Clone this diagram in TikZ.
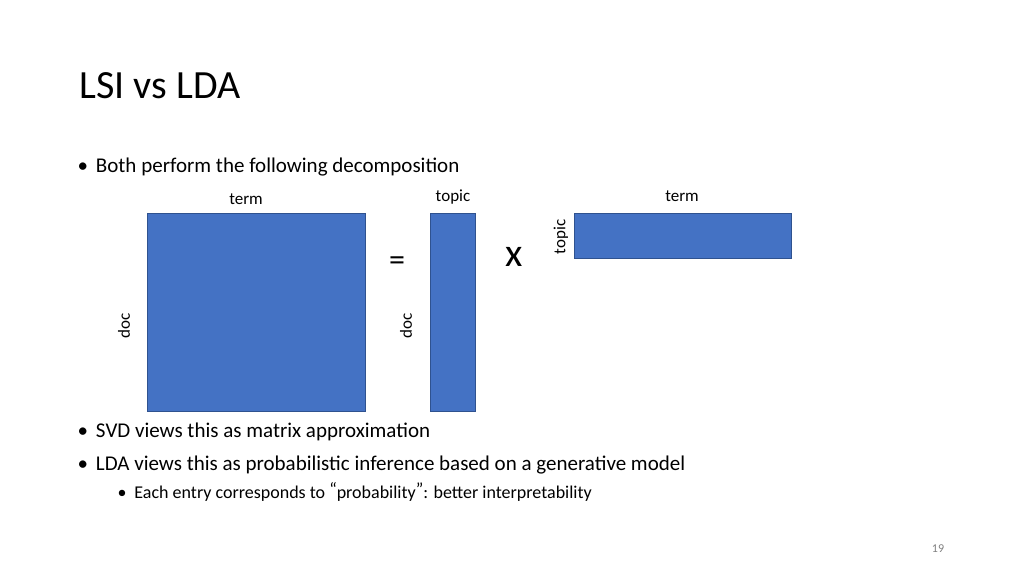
\documentclass[tikz,border=0pt]{standalone}
\usepackage{fontspec}
\setmainfont{Carlito}
\definecolor{matblue}{HTML}{4472C4}
\definecolor{matedge}{HTML}{2F528F}
\tikzset{
  mat/.style={draw=matedge, fill=matblue, line width=0.8pt},
  lbl/.style={font=\fontsize{17}{20}\selectfont},
  bullet/.style={anchor=west, font=\fontsize{21}{25}\selectfont},
  subbullet/.style={anchor=west, font=\fontsize{18}{22}\selectfont}
}
\begin{document}
\begin{tikzpicture}[x=1pt,y=-1pt]
  \useasboundingbox (0,0) rectangle (1024,576);
  \node[anchor=west, font=\fontsize{40}{46}\selectfont] (title) at (76,86) {LSI vs LDA};

  \node[bullet] (b1) at (74,167) {\textbullet\hspace{8pt}Both perform the following decomposition};

  % matrices
  \draw[mat] (147,213) rectangle (365,411);
  \coordinate (big) at (256,312);
  \draw[mat] (430,213) rectangle (475,411);
  \draw[mat] (574,213) rectangle (791,258);

  \node[lbl] (termA) at (246,199) {term};
  \node[lbl] (topicA) at (453,197) {topic};
  \node[lbl] (termB) at (682,196) {term};
  \node[lbl, rotate=90] (topicB) at (561,237) {topic};
  \node[lbl, rotate=90] (docA) at (124,326) {doc};
  \node[lbl, rotate=90] (docB) at (406,326) {doc};

  \node[font=\fontsize{32}{36}\selectfont] (eq) at (397,264) {=};
  \node[font=\fontsize{40}{44}\selectfont] (times) at (514,257) {x};

  \node[bullet] (b2) at (74,432) {\textbullet\hspace{8pt}SVD views this as matrix approximation};
  \node[bullet] (b3) at (74,465) {\textbullet\hspace{8pt}LDA views this as probabilistic inference based on a generative model};
  \node[subbullet] (b4) at (114,492) {\textbullet\hspace{8pt}Each entry corresponds to \raisebox{3pt}{“}probability\raisebox{3pt}{”}: better interpretability};

  \node[font=\fontsize{12}{14}\selectfont, text=gray] (page) at (938,549) {19};
\end{tikzpicture}
\end{document}
